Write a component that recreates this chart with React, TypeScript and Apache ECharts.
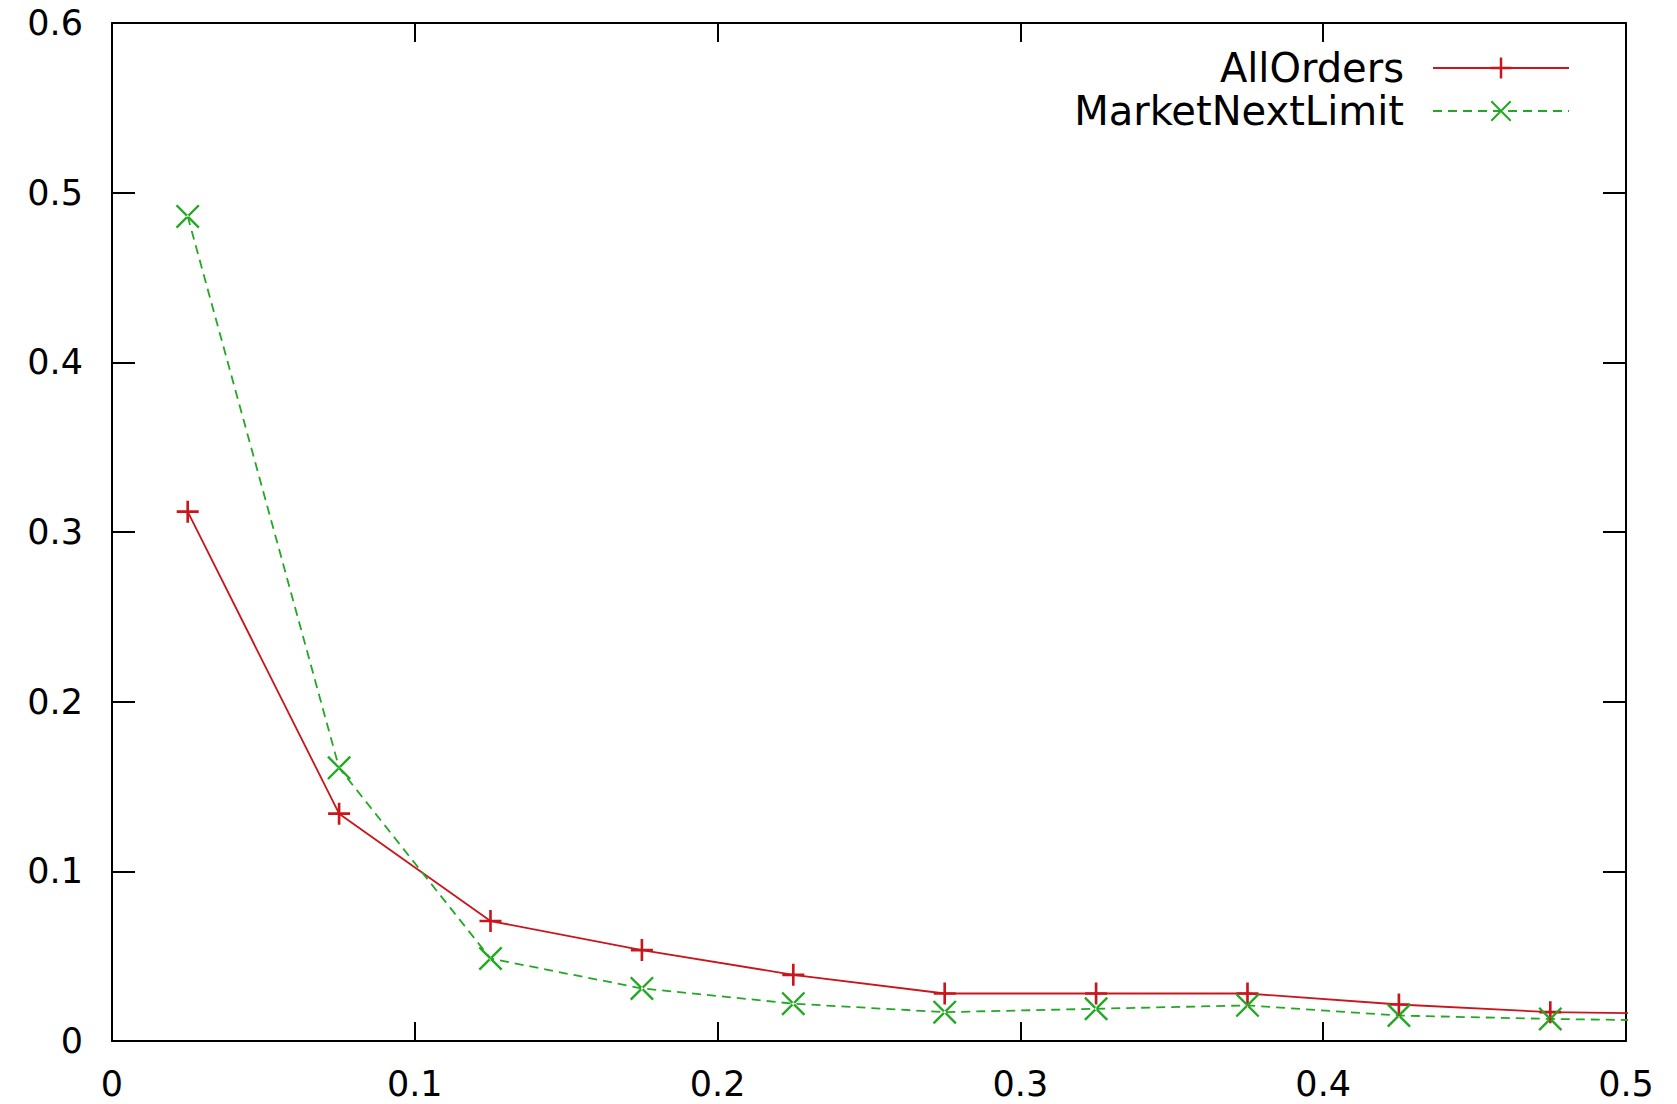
import React, { useEffect, useRef } from "react";
import * as echarts from "echarts";

const xValues = [0.025, 0.075, 0.125, 0.175, 0.225, 0.275, 0.325, 0.375, 0.425, 0.475, 0.525];
const allOrders = [0.312, 0.134, 0.0707, 0.0536, 0.039, 0.028, 0.028, 0.028, 0.0215, 0.017, 0.016];
const marketNextLimit = [0.486, 0.161, 0.0486, 0.031, 0.022, 0.017, 0.019, 0.021, 0.015, 0.013, 0.0118];
const xTicks = [0, 0.1, 0.2, 0.3, 0.4, 0.5];
const yTicks = [0, 0.1, 0.2, 0.3, 0.4, 0.5, 0.6];

const RED = "#c8161c";
const GREEN = "#22a822";
const FONT = "'DejaVu Sans', sans-serif";

const PLUS = "path://M-1.2,-10L1.2,-10L1.2,10L-1.2,10Z M-10,-1.2L10,-1.2L10,1.2L-10,1.2Z";
const CROSS = "path://M-10,-8.6L-8.6,-10L10,8.6L8.6,10Z M10,-8.6L8.6,-10L-10,8.6L-8.6,10Z";

export default function App() {
  const ref = useRef<HTMLDivElement>(null);
  useEffect(() => {
    if (!ref.current) return;
    const chart = echarts.init(ref.current, undefined, { renderer: "svg" });
    const axisLine = { show: true, onZero: false, lineStyle: { color: "#000", width: 2 } };
    const xTick = { show: true, inside: true, length: 19, lineStyle: { color: "#000", width: 2 } };
    const yTick = { show: true, inside: true, length: 23, lineStyle: { color: "#000", width: 2 } };
    const fmt = (ticks: number[]) => (v: number) => {
      const t = ticks.find((k) => Math.abs(k - v) < 1e-9);
      return t === undefined ? "" : String(t);
    };
    chart.setOption({
      animation: false,
      backgroundColor: "#fff",
      grid: { left: 112, right: 51, top: 23, bottom: 63 },
      legend: {
        orient: "vertical",
        right: 102,
        top: 43,
        align: "right",
        itemWidth: 136,
        itemHeight: 26,
        itemGap: 3,
        textStyle: { fontFamily: FONT, fontSize: 40, lineHeight: 40, color: "#000", padding: [0, 24, 0, 0] },
        data: ["AllOrders", "MarketNextLimit"],
      },
      xAxis: [
        {
          type: "value",
          position: "bottom",
          min: 0,
          max: 0.5,
          interval: 0.1,
          axisLine,
          splitLine: { show: false },
          axisTick: xTick,
          axisLabel: { show: true, margin: 25, fontFamily: FONT, fontSize: 35, color: "#000", formatter: fmt(xTicks) },
        },
        {
          type: "value",
          position: "top",
          min: 0,
          max: 0.5,
          interval: 0.1,
          axisLine,
          splitLine: { show: false },
          axisTick: xTick,
          axisLabel: { show: false },
        },
      ],
      yAxis: [
        {
          type: "value",
          position: "left",
          min: 0,
          max: 0.6,
          interval: 0.1,
          axisLine,
          splitLine: { show: false },
          axisTick: yTick,
          axisLabel: { show: true, margin: 29, fontFamily: FONT, fontSize: 35, color: "#000", formatter: fmt(yTicks) },
        },
        {
          type: "value",
          position: "right",
          min: 0,
          max: 0.6,
          interval: 0.1,
          axisLine,
          splitLine: { show: false },
          axisTick: yTick,
          axisLabel: { show: false },
        },
      ],
      series: [
        {
          name: "AllOrders",
          type: "line",
          xAxisIndex: 0,
          yAxisIndex: 0,
          clip: true,
          data: xValues.map((x, i) => [x, allOrders[i]]),
          symbol: PLUS,
          symbolSize: 22,
          showAllSymbol: true,
          lineStyle: { color: RED, width: 1.8 },
          itemStyle: { color: RED },
        },
        {
          name: "MarketNextLimit",
          type: "line",
          xAxisIndex: 0,
          yAxisIndex: 0,
          clip: true,
          data: xValues.map((x, i) => [x, marketNextLimit[i]]),
          symbol: CROSS,
          symbolSize: 24,
          showAllSymbol: true,
          lineStyle: { color: GREEN, width: 1.8, type: [9, 6] },
          itemStyle: { color: GREEN },
        },
      ],
    });
    return () => chart.dispose();
  }, []);
  return <div ref={ref} style={{ width: 1677, height: 1104, position: "absolute", left: 0, top: 0 }} />;
}
